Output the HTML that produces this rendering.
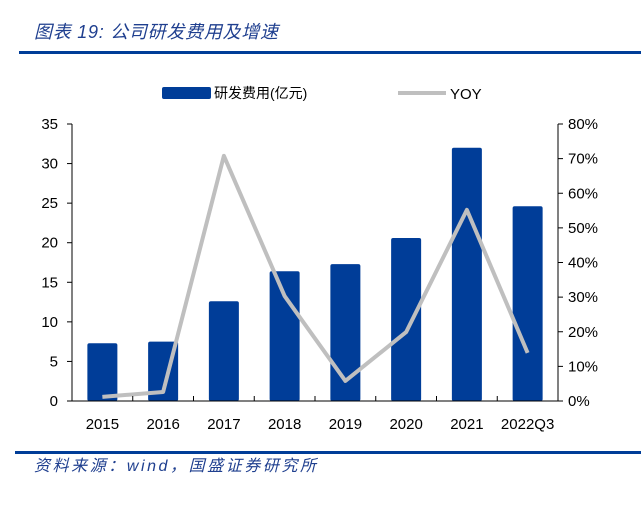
<!DOCTYPE html>
<html><head><meta charset="utf-8"><style>
body{margin:0;background:#fff;width:641px;height:500px;overflow:hidden;font-family:"Liberation Sans","Noto Sans CJK SC",sans-serif}
</style></head><body>
<svg width="641" height="500" xmlns="http://www.w3.org/2000/svg">
<text x="34" y="38" font-size="18" font-style="italic" fill="#1f3f8f" font-family="Liberation Sans,Noto Sans CJK SC,sans-serif" textLength="244">图表 19:  公司研发费用及增速</text>
<rect x="19" y="51" width="622" height="3" fill="#003d98"/>
<rect x="15" y="451" width="626" height="3" fill="#003d98"/>
<text x="34" y="471" font-size="16" font-style="italic" fill="#1f3f8f" font-family="Liberation Sans,Noto Sans CJK SC,sans-serif" textLength="282">资料来源：wind，国盛证券研究所</text>
<g>
<rect x="162" y="87" width="49" height="12" rx="2" fill="#003d98"/>
<text x="214" y="98" font-size="14" fill="#000">研发费用(亿元)</text>
<line x1="398" y1="93" x2="446" y2="93" stroke="#bfbfbf" stroke-width="4"/>
<text x="450" y="99" font-size="15" fill="#000">YOY</text>
</g>
<g id="plot"></g>
</svg>
<script>
const categories=["2015","2016","2017","2018","2019","2020","2021","2022Q3"];
const rdValues=[7.3,7.5,12.6,16.4,17.3,20.6,32.0,24.6];
const yoyValues=[1.2,2.6,70.8,30.3,5.8,19.9,55.2,13.9];
const leftTicks=[0,5,10,15,20,25,30,35];
const rightTicks=[0,10,20,30,40,50,60,70,80];
const NS="http://www.w3.org/2000/svg";
const g=document.getElementById('plot');
const X0=72,X1=558,Y0=401,Y1=124;
const bw=(X1-X0)/categories.length;
const xc=i=>X0+bw*(i+0.5);
const yL=v=>Y0-(v/35)*(Y0-Y1);
const yR=v=>Y0-(v/80)*(Y0-Y1);
function mk(t,a){const e=document.createElementNS(NS,t);for(const k in a)e.setAttribute(k,a[k]);g.appendChild(e);return e;}
rdValues.forEach((v,i)=>{
 const r=mk('rect',{x:xc(i)-15,y:yL(v),width:30,height:Y0-yL(v),fill:'#003d98',rx:2});
 
 
});
const pl=mk('polyline',{points:yoyValues.map((v,i)=>xc(i)+','+yR(v)).join(' '),fill:'none',stroke:'#bfbfbf','stroke-width':4,'stroke-linejoin':'round'});


const ax=mk('path',{d:`M${X0} ${Y1}V${Y0}H${X1}V${Y1}`,fill:'none',stroke:'#000','stroke-width':1});


leftTicks.forEach(v=>{
 mk('line',{x1:X0-5,x2:X0,y1:yL(v),y2:yL(v),stroke:'#000'});
 const t=mk('text',{x:X0-14,y:yL(v)+5,'font-size':15,'text-anchor':'end'});t.textContent=v;
 
 
});
rightTicks.forEach(v=>{
 mk('line',{x1:X1,x2:X1+5,y1:yR(v),y2:yR(v),stroke:'#000'});
 const t=mk('text',{x:X1+10,y:yR(v)+5,'font-size':15});t.textContent=v+'%';
 
 
});
categories.forEach((c,i)=>{
 mk('line',{x1:X0+bw*(i+1),x2:X0+bw*(i+1),y1:Y0,y2:Y0-5,stroke:'#000'});
 const t=mk('text',{x:xc(i),y:429,'font-size':15,'text-anchor':'middle'});t.textContent=c;
 
 
});
</script>
</body></html>
